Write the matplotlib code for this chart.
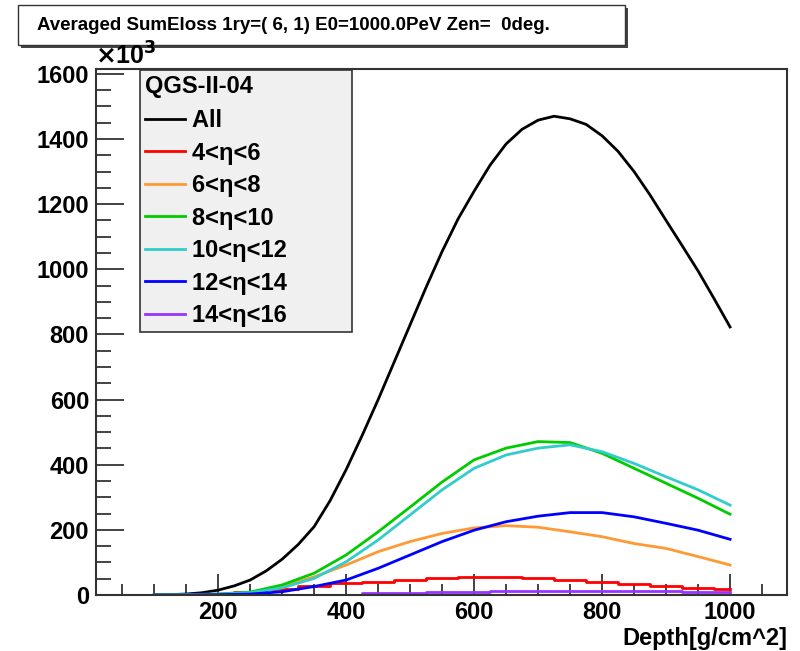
import matplotlib
matplotlib.use('AGG')
import matplotlib.pyplot as plt
from matplotlib.patches import Rectangle
from matplotlib.ticker import MultipleLocator

plt.rcParams['font.family'] = ['Liberation Sans', 'DejaVu Sans']
plt.rcParams['font.weight'] = 'bold'

depth = [100, 150, 200, 250, 300, 350, 400, 450, 500, 550,
         600, 650, 700, 750, 800, 850, 900, 950, 1000]

# finer reading for the total curve
depth_all = [100, 125, 150, 175, 200, 225, 250, 275, 300, 325, 350, 375, 400,
             425, 450, 475, 500, 525, 550, 575, 600, 625, 650, 675, 700,
             725, 750, 775, 800, 825, 850, 875, 900, 925, 950, 975, 1000]

# values in units of 10^3
e_all = [0, 1, 3, 7, 15, 28, 46, 74, 110, 155, 210, 290, 385,
         490, 600, 715, 830, 945, 1055, 1155, 1240, 1320, 1385, 1430, 1458,
         1470, 1462, 1445, 1410, 1362, 1300, 1228, 1150, 1073, 995, 910, 823]
e_4_6 = [0, 1, 3, 8, 17, 27, 36, 41, 45, 51,
         56, 56, 52, 46, 41, 34, 28, 21, 18]
e_6_8 = [0, 1, 3, 7, 26, 56, 92, 133, 164, 189,
         206, 213, 208, 194, 179, 158, 143, 118, 92]
e_8_10 = [0, 1, 3, 9, 31, 67, 123, 194, 270, 347,
          415, 451, 471, 468, 435, 389, 343, 297, 248]
e_10_12 = [0, 1, 2, 7, 22, 51, 102, 169, 246, 323,
           389, 430, 451, 461, 440, 404, 363, 323, 276]
e_12_14 = [0, 0, 1, 3, 10, 26, 46, 82, 123, 164,
           199, 225, 242, 253, 253, 240, 220, 199, 171]
e_14_16 = [0, 0, 0, 0, 0, 0, 0, 5, 5, 10,
           10, 13, 13, 13, 13, 13, 13, 8, 8]

series = [
    ('All', depth_all, e_all, 'black', 'default'),
    ('4<\u03b7<6', depth, e_4_6, '#ff0000', 'steps-mid'),
    ('6<\u03b7<8', depth, e_6_8, '#ff9933', 'default'),
    ('8<\u03b7<10', depth, e_8_10, '#00cc00', 'default'),
    ('10<\u03b7<12', depth, e_10_12, '#33cccc', 'default'),
    ('12<\u03b7<14', depth, e_12_14, '#0000ff', 'default'),
    ('14<\u03b7<16', depth, e_14_16, '#9933ff', 'steps-mid'),
]

fig = plt.figure(figsize=(8, 6.51), dpi=100)
ax = fig.add_axes([96 / 800, 56 / 651, 691 / 800, 526 / 651])

for label, xs, vals, color, ds in series:
    ax.plot(xs, vals, color=color, lw=2, drawstyle=ds, label=label + ' ' * 9)

ax.set_xlim(9, 1089)
ax.set_ylim(0, 1615)

ax.xaxis.set_major_locator(MultipleLocator(200))
ax.xaxis.set_minor_locator(MultipleLocator(50))
ax.yaxis.set_major_locator(MultipleLocator(200))
ax.yaxis.set_minor_locator(MultipleLocator(50))
ax.tick_params(which='both', direction='in', top=False, right=False,
               labelsize=17, width=1.2, color='#222222')
ax.tick_params(axis='y', which='major', length=20, pad=5)
ax.tick_params(axis='y', which='minor', length=11)
ax.tick_params(axis='x', which='major', length=15, pad=4)
ax.tick_params(axis='x', which='minor', length=8)
for lab in ax.get_xticklabels() + ax.get_yticklabels():
    lab.set_fontweight('bold')
for sp in ax.spines.values():
    sp.set_color('#333333')
    sp.set_linewidth(1.5)

fig.text(787 / 800, 1 - 639 / 651, 'Depth[g/cm^2]', ha='right', va='center',
         fontsize=17, fontweight='bold')
fig.text(95 / 800, 1 - 56 / 651, r'$\times$10$^{\mathbf{3}}$', ha='left', va='center',
         fontsize=18, fontweight='bold')

leg = ax.legend(title='QGS-II-04', loc='upper left',
                bbox_to_anchor=(140 / 800, 1 - 70 / 651), bbox_transform=fig.transFigure,
                borderaxespad=0, fancybox=False, facecolor='#f0f0f0', edgecolor='#333333',
                framealpha=1, title_fontsize=17, handlelength=1.7,
                handletextpad=0.3, labelspacing=0.40, borderpad=0.22,
                alignment='left', prop={'weight': 'bold', 'size': 17})
leg.get_title().set_fontweight('bold')
leg.get_frame().set_linewidth(1.2)
leg._legend_box.sep = 8

# title box with shadow
fig.patches.append(Rectangle((21 / 800, 1 - 48 / 651), 607 / 800, 40 / 651,
                             transform=fig.transFigure, facecolor='#444444',
                             edgecolor='none'))
fig.patches.append(Rectangle((18 / 800, 1 - 45 / 651), 607 / 800, 40 / 651,
                             transform=fig.transFigure, facecolor='white',
                             edgecolor='#333333', lw=1))
fig.text(37 / 800, 1 - 25 / 651,
         'Averaged SumEloss 1ry=( 6, 1) E0=1000.0PeV Zen=  0deg.',
         ha='left', va='center', fontsize=13.5, fontweight='bold')

fig.savefig('out.png')
